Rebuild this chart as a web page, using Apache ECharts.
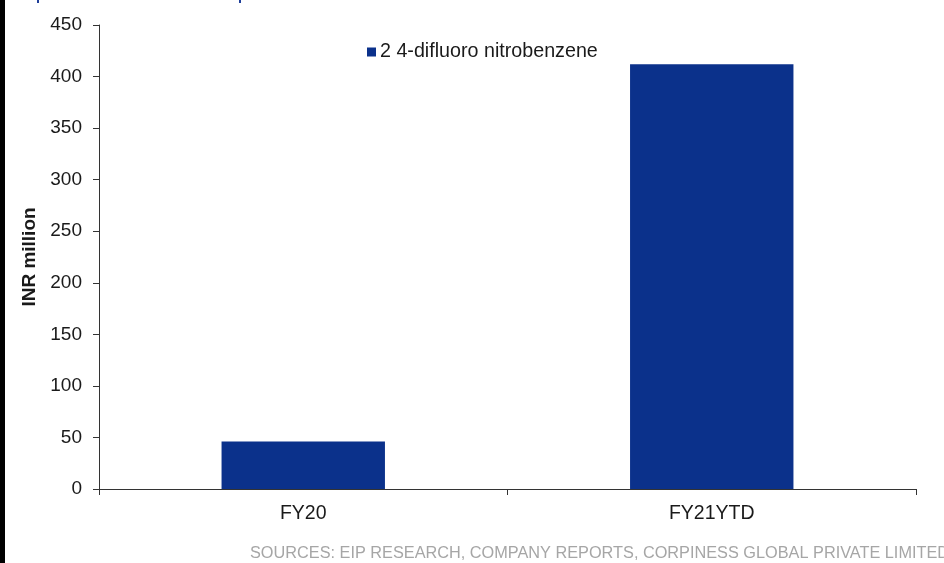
<!DOCTYPE html>
<html>
<head>
<meta charset="utf-8">
<style>
  html, body { margin: 0; padding: 0; background: #ffffff; }
  #chart { width: 944px; height: 563px; }
</style>
<script src="https://cdn.jsdelivr.net/npm/echarts@6/dist/echarts.min.js"></script>
</head>
<body>
<div id="chart"></div>
<script>
// Revenue by product, INR million
const categories = ['FY20', 'FY21YTD'];
const seriesName = '2 4-difluoro nitrobenzene';
const seriesValues = [46, 412];
const yTicks = { min: 0, max: 450, interval: 50 };
const sourceNote = 'SOURCES: EIP RESEARCH, COMPANY REPORTS, CORPINESS GLOBAL PRIVATE LIMITED';

const FONT = 'Liberation Sans, Arial, sans-serif';
const chart = echarts.init(document.getElementById('chart'));

chart.setOption({
  animation: false,
  backgroundColor: '#ffffff',
  grid: { left: 99, right: 28, top: 25, bottom: 74, containLabel: false },
  legend: {
    data: [seriesName],
    left: 362,
    top: 37,
    icon: 'rect',
    itemWidth: 9,
    itemHeight: 9,
    itemGap: 4,
    textStyle: { fontFamily: FONT, fontSize: 19.7, color: '#1a1a1a', padding: [0, 0, 0, -1] }
  },
  xAxis: {
    type: 'category',
    data: categories,
    boundaryGap: true,
    axisLine: { lineStyle: { color: '#333333', width: 1 } },
    axisTick: { show: true, length: 6, lineStyle: { color: '#333333' } },
    axisLabel: { fontFamily: FONT, fontSize: 19.5, color: '#1a1a1a', margin: 15 }
  },
  yAxis: {
    type: 'value',
    min: yTicks.min,
    max: yTicks.max,
    interval: yTicks.interval,
    name: 'INR million',
    nameLocation: 'middle',
    nameGap: 49,
    nameTextStyle: { fontFamily: FONT, fontSize: 19, fontWeight: 'bold', color: '#1a1a1a' },
    axisLine: { show: true, lineStyle: { color: '#333333', width: 1 } },
    axisTick: { show: true, length: 6, lineStyle: { color: '#333333' } },
    axisLabel: { fontFamily: FONT, fontSize: 19, color: '#1a1a1a', margin: 17 },
    splitLine: { show: false }
  },
  series: [{
    name: seriesName,
    type: 'bar',
    data: seriesValues,
    barCategoryGap: '60%',
    itemStyle: { color: '#0B318B' }
  }],
  graphic: [
    // dark edge strip on the left
    { type: 'rect', left: 0, top: 0, shape: { width: 5, height: 563 }, style: { fill: '#000000' } },
    // clipped heading glyph tails
    { type: 'rect', left: 37, top: 0, shape: { width: 2, height: 3 }, style: { fill: '#1f3f9a' } },
    { type: 'rect', left: 239, top: 0, shape: { width: 2, height: 3 }, style: { fill: '#1f3f9a' } },
    {
      type: 'text',
      left: 250,
      top: 546,
      style: { text: sourceNote, fontFamily: FONT, fontSize: 16.3, fill: '#a6a6a6' }
    }
  ]
});
</script>
</body>
</html>
